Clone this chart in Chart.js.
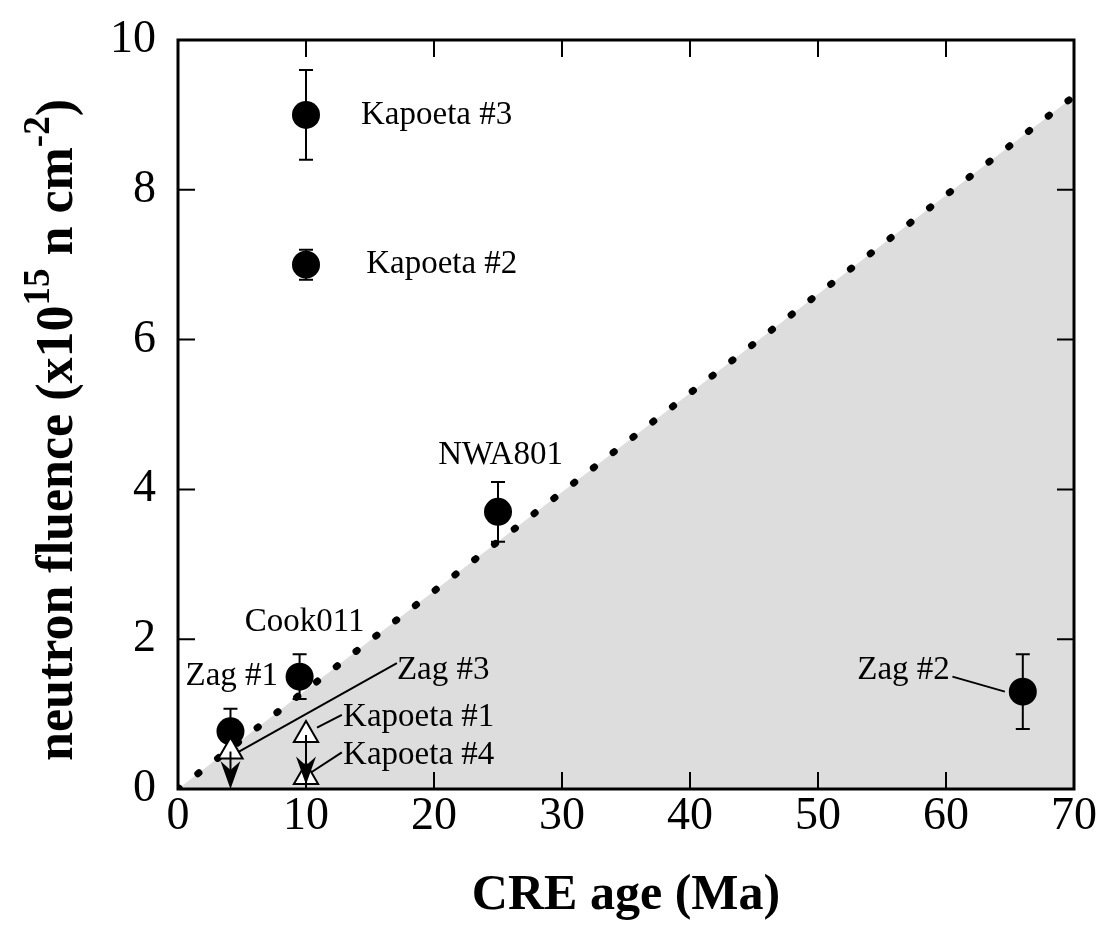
<!DOCTYPE html>
<html>
<head>
<meta charset="utf-8">
<script src="https://cdn.jsdelivr.net/npm/chart.js@4.4.0/dist/chart.umd.min.js"></script>
<style>
body { margin: 0; background: #fff; }
canvas { display: block; }
</style>
</head>
<body>
<canvas id="myChart" width="1107" height="927"></canvas>
<script>
// Samples with error bars (CRE age in Ma, fluence in 1e15 n/cm2)
const names = ['Kapoeta #3', 'Kapoeta #2', 'NWA801', 'Cook011', 'Zag #1', 'Zag #2'];
const ages = [10, 10, 25, 9.5, 4.1, 66];
const fluence = [9.0, 7.0, 3.7, 1.5, 0.77, 1.3];
const errLow = [8.4, 6.8, 3.3, 1.2, 0.47, 0.8];
const errHigh = [9.6, 7.2, 4.1, 1.8, 1.07, 1.8];

// Upper limits (open triangles, arrow down to value)
const limitNames = ['Zag #3', 'Kapoeta #1', 'Kapoeta #4'];
const limitAges = [4.1, 10, 10];
const limitValues = [0.5, 0.72, 0.16];
const limitArrowTo = [0, 0.06, null];

// Dotted boundary line, shaded below
const lineAges = [0, 70];
const lineValues = [0, 9.25];

const xTicks = [0, 10, 20, 30, 40, 50, 60, 70];
const yTicks = [0, 2, 4, 6, 8, 10];

// Label placement (data coords) and leader lines
const labelPlace = {
    'Kapoeta #3': { x: 14.3, y: 9.0, align: 'left' },
    'Kapoeta #2': { x: 14.7, y: 7.0, align: 'left' },
    'NWA801': { x: 25.2, y: 4.46, align: 'center' },
    'Cook011': { x: 9.9, y: 2.23, align: 'center' },
    'Zag #1': { x: 4.2, y: 1.5, align: 'center' },
    'Zag #2': { x: 60.3, y: 1.59, align: 'right', lead: [60.5, 1.5, 64.6, 1.3] },
    'Zag #3': { x: 17.1, y: 1.58, align: 'left', lead: [4.66, 0.49, 17.1, 1.68] },
    'Kapoeta #1': { x: 12.9, y: 0.96, align: 'left', lead: [10.86, 0.82, 12.8, 0.99] },
    'Kapoeta #4': { x: 12.9, y: 0.45, align: 'left', lead: [10.3, 0.21, 12.8, 0.49] }
};

const serif = "'Liberation Serif', 'Times New Roman', serif";

const extras = {
    id: 'extras',
    afterDatasetDraw(chart, args) {
        if (args.index !== 2) return;
        const ctx = chart.ctx, x = chart.scales.x, y = chart.scales.y;
        ctx.save();
        ctx.strokeStyle = '#000';
        ctx.lineWidth = 2;
        // error bars
        ages.forEach((a, i) => {
            const px = x.getPixelForValue(a);
            const lo = y.getPixelForValue(errLow[i]);
            const hi = y.getPixelForValue(errHigh[i]);
            ctx.beginPath();
            ctx.moveTo(px, lo); ctx.lineTo(px, hi);
            ctx.moveTo(px - 7, lo); ctx.lineTo(px + 7, lo);
            ctx.moveTo(px - 7, hi); ctx.lineTo(px + 7, hi);
            ctx.stroke();
        });
        // leader lines
        Object.values(labelPlace).forEach(p => {
            if (!p.lead) return;
            ctx.beginPath();
            ctx.moveTo(x.getPixelForValue(p.lead[0]), y.getPixelForValue(p.lead[1]));
            ctx.lineTo(x.getPixelForValue(p.lead[2]), y.getPixelForValue(p.lead[3]));
            ctx.stroke();
        });
        ctx.restore();
    },
    afterDatasetsDraw(chart) {
        const ctx = chart.ctx, x = chart.scales.x, y = chart.scales.y;
        const area = chart.chartArea;
        ctx.save();
        ctx.strokeStyle = '#000';
        ctx.fillStyle = '#000';

        // arrows for upper limits
        ctx.lineWidth = 2;
        limitAges.forEach((a, i) => {
            if (limitArrowTo[i] === null) return;
            const px = x.getPixelForValue(a);
            const top = y.getPixelForValue(limitValues[i]);
            const tip = y.getPixelForValue(limitArrowTo[i]);
            ctx.beginPath();
            ctx.moveTo(px, top); ctx.lineTo(px, tip - 16);
            ctx.stroke();
            ctx.beginPath();
            ctx.moveTo(px, tip);
            ctx.lineTo(px - 10, tip - 28);
            ctx.lineTo(px, tip - 19);
            ctx.lineTo(px + 10, tip - 28);
            ctx.closePath();
            ctx.fill();
        });

        // frame
        ctx.lineWidth = 3;
        ctx.strokeRect(area.left, area.top, area.right - area.left, area.bottom - area.top);

        // inside ticks on all four sides
        ctx.lineWidth = 2;
        ctx.beginPath();
        xTicks.forEach(v => {
            const px = x.getPixelForValue(v);
            ctx.moveTo(px, area.bottom); ctx.lineTo(px, area.bottom - 17);
            ctx.moveTo(px, area.top); ctx.lineTo(px, area.top + 17);
        });
        yTicks.forEach(v => {
            const py = y.getPixelForValue(v);
            ctx.moveTo(area.left, py); ctx.lineTo(area.left + 17, py);
            ctx.moveTo(area.right, py); ctx.lineTo(area.right - 17, py);
        });
        ctx.stroke();

        // point labels
        ctx.font = '33px ' + serif;
        ctx.textBaseline = 'middle';
        Object.keys(labelPlace).forEach(name => {
            const p = labelPlace[name];
            ctx.textAlign = p.align;
            ctx.fillText(name, x.getPixelForValue(p.x), y.getPixelForValue(p.y));
        });

        // x title
        ctx.font = 'bold 50px ' + serif;
        ctx.textAlign = 'center';
        ctx.textBaseline = 'alphabetic';
        ctx.fillText('CRE age (Ma)', (area.left + area.right) / 2, 909);

        // y title with superscripts
        const parts = [
            ['neutron fluence (x10', 52, 0],
            ['15', 37, -23],
            [' n cm', 52, 0],
            ['-2', 37, -23],
            [')', 52, 0]
        ];
        let total = 0;
        parts.forEach(p => {
            ctx.font = 'bold ' + p[1] + 'px ' + serif;
            total += ctx.measureText(p[0]).width;
        });
        ctx.translate(72, 430);
        ctx.rotate(-Math.PI / 2);
        ctx.textAlign = 'left';
        let cx = -total / 2;
        parts.forEach(p => {
            ctx.font = 'bold ' + p[1] + 'px ' + serif;
            ctx.fillText(p[0], cx, p[2]);
            cx += ctx.measureText(p[0]).width;
        });
        ctx.restore();
    }
};

const ctx = document.getElementById('myChart').getContext('2d');
new Chart(ctx, {
    type: 'scatter',
    data: {
        datasets: [{
            label: 'Upper limits',
            data: limitAges.map((a, i) => ({ x: a, y: limitValues[i] })),
            pointStyle: 'triangle',
            pointRadius: 14,
            backgroundColor: '#fff',
            borderColor: '#000',
            borderWidth: 2
        }, {
            label: 'Samples',
            data: ages.map((a, i) => ({ x: a, y: fluence[i] })),
            pointStyle: 'circle',
            pointRadius: 14,
            backgroundColor: '#000',
            borderColor: '#000',
            borderWidth: 0
        }, {
            type: 'line',
            label: 'Boundary',
            data: lineAges.map((a, i) => ({ x: a, y: lineValues[i] })),
            borderColor: '#000',
            borderWidth: 7,
            borderDash: [1.5, 23.5],
            borderCapStyle: 'round',
            backgroundColor: '#dcdddc',
            fill: 'origin',
            pointRadius: 0
        }]
    },
    options: {
        responsive: false,
        animation: false,
        layout: { padding: { top: 40, right: 33, left: 0, bottom: 0 } },
        plugins: {
            legend: { display: false },
            tooltip: { enabled: false }
        },
        scales: {
            x: {
                type: 'linear',
                min: 0,
                max: 70,
                afterBuildTicks: s => { s.ticks = xTicks.map(v => ({ value: v })); },
                afterFit: s => { s.height = 138; s.paddingLeft = 0; s.paddingRight = 0; },
                grid: { display: false, drawTicks: false },
                border: { display: false },
                ticks: { color: '#000', padding: 0, maxRotation: 0, font: { family: serif, size: 46 } }
            },
            y: {
                type: 'linear',
                min: 0,
                max: 10,
                afterBuildTicks: s => { s.ticks = yTicks.map(v => ({ value: v })); },
                afterFit: s => { s.width = 178; s.paddingTop = 0; s.paddingBottom = 0; },
                grid: { display: false, drawTicks: false },
                border: { display: false },
                ticks: { color: '#000', padding: 22, font: { family: serif, size: 46 } }
            }
        }
    },
    plugins: [extras]
});
</script>
</body>
</html>
